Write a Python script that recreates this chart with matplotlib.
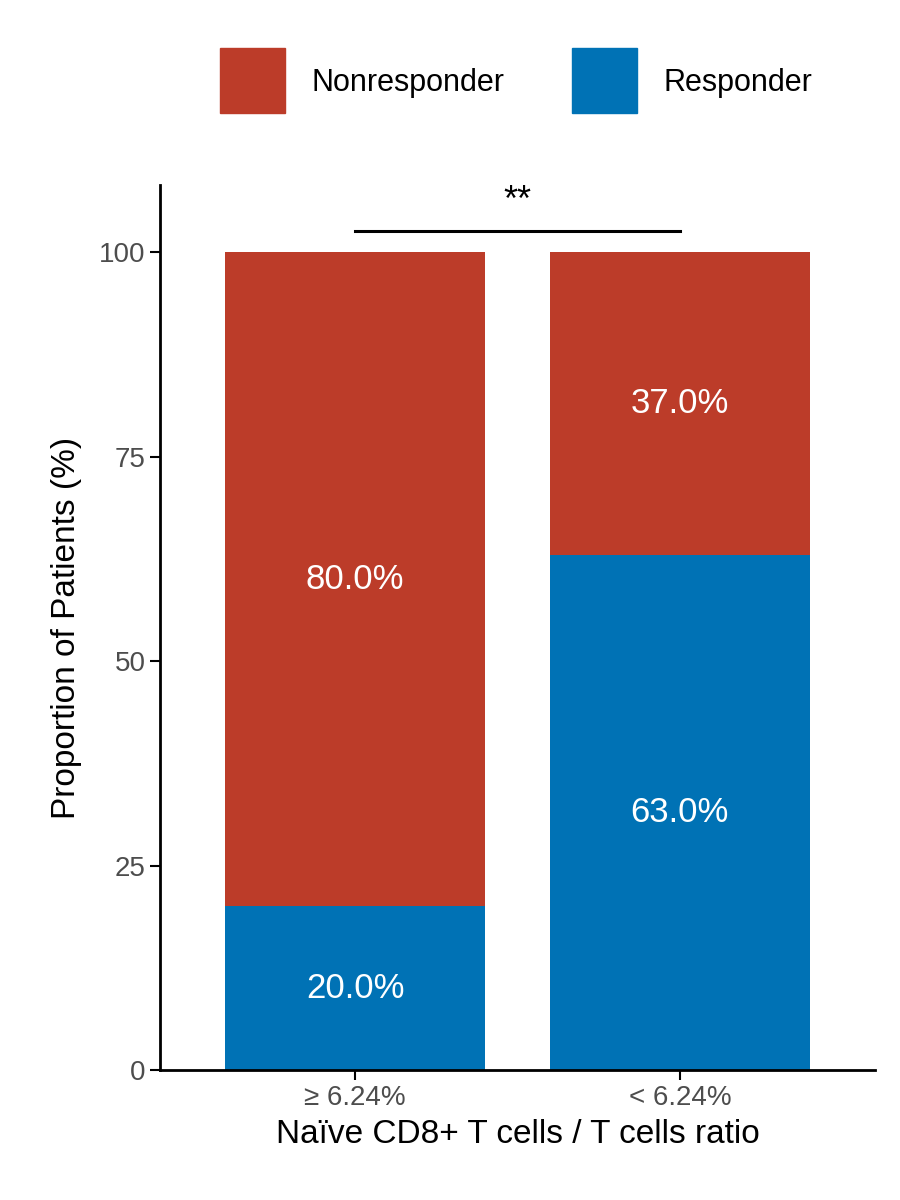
import matplotlib.pyplot as plt
from matplotlib.patches import Rectangle

groups = ["\u2265 6.24%", "< 6.24%"]
responder = [20.0, 63.0]
nonresponder = [80.0, 37.0]
red = "#BC3C29"
blue = "#0072B5"

plt.rcParams['font.family'] = ['Liberation Sans', 'DejaVu Sans']

fig = plt.figure(figsize=(9, 12), dpi=100)
ax = fig.add_axes([0.178, 0.1083, 0.794, 0.7375])

x = [1, 2]
ax.bar(x, responder, width=0.8, color=blue)
ax.bar(x, nonresponder, width=0.8, bottom=responder, color=red)

for xi, r, n in zip(x, responder, nonresponder):
    ax.text(xi, r / 2, f"{r:.1f}%", ha='center', va='center', color='white', fontsize=25)
    ax.text(xi, r + n / 2, f"{n:.1f}%", ha='center', va='center', color='white', fontsize=25)

ax.plot([1, 2], [102.6, 102.6], color='black', lw=2.2)
ax.text(1.5, 104.0, "**", ha='center', va='bottom', fontsize=26)

ax.set_xlim(0.4, 2.6)
ax.set_ylim(0, 108.2)
ax.set_yticks([0, 25, 50, 75, 100])
ax.set_xticks(x)
ax.set_xticklabels(groups)
ax.tick_params(labelsize=20, colors='#4D4D4D', length=7, width=1.5, labelcolor='#4D4D4D')
ax.tick_params(axis='x', colors='black', labelcolor='#4D4D4D')
ax.tick_params(axis='y', colors='black', labelcolor='#4D4D4D')
for s in ['top', 'right']:
    ax.spines[s].set_visible(False)
for s in ['left', 'bottom']:
    ax.spines[s].set_linewidth(2)
ax.set_ylabel("Proportion of Patients (%)", fontsize=24, labelpad=12)
ax.set_xlabel("Na\u00efve CD8+ T cells / T cells ratio", fontsize=24, labelpad=6)

# legend
fig.patches.append(Rectangle((220 / 900, 1 - 113 / 1200), 65 / 900, 65 / 1200,
                             transform=fig.transFigure, color=red))
fig.text(312 / 900, 1 - 83 / 1200, "Nonresponder", fontsize=22, va='center')
fig.patches.append(Rectangle((572 / 900, 1 - 113 / 1200), 65 / 900, 65 / 1200,
                             transform=fig.transFigure, color=blue))
fig.text(663 / 900, 1 - 83 / 1200, "Responder", fontsize=22, va='center')

fig.savefig("out.png", dpi=100)
